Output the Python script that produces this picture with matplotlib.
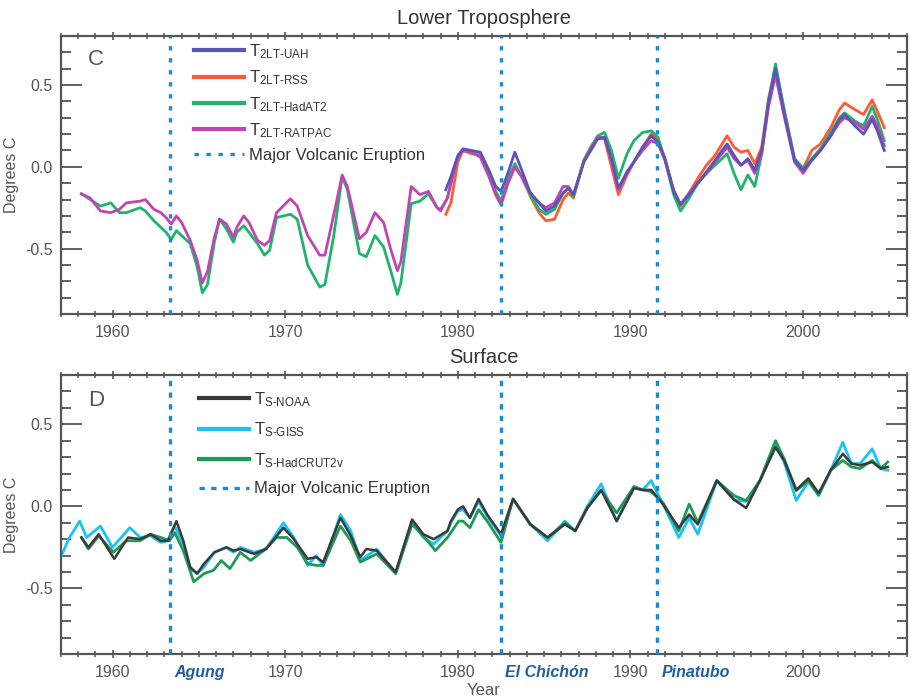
import matplotlib
matplotlib.use("Agg")
import matplotlib.pyplot as plt
from matplotlib.ticker import MultipleLocator
import matplotlib.transforms as mtransforms

plt.rcParams['font.family'] = ['Liberation Sans', 'DejaVu Sans']
plt.rcParams['mathtext.fontset'] = 'custom'
plt.rcParams['mathtext.rm'] = 'Liberation Sans'
plt.rcParams['mathtext.it'] = 'Liberation Sans:italic'
plt.rcParams['mathtext.bf'] = 'Liberation Sans:bold'

# ---------------- Lower troposphere (panel C) ----------------
uah_years = [1979.3, 1979.6, 1980.0, 1980.3, 1980.8, 1981.3, 1981.8, 1982.2, 1982.5, 1982.9,
             1983.3, 1983.7, 1984.2, 1984.7, 1985.1, 1985.6, 1986.1, 1986.4, 1986.7, 1987.3,
             1987.7, 1988.1, 1988.5, 1988.9, 1989.3, 1989.8, 1990.2, 1990.7, 1991.2, 1991.6,
             1992.0, 1992.5, 1992.9, 1993.4, 1993.9, 1994.4, 1994.9, 1995.3, 1995.6, 1996.0,
             1996.4, 1996.8, 1997.2, 1997.6, 1998.0, 1998.4, 1998.9, 1999.5, 2000.0, 2000.5,
             2001.0, 2001.6, 2002.1, 2002.4, 2003.0, 2003.5, 2004.0, 2004.3, 2004.7]
uah = [-0.14, -0.06, 0.07, 0.11, 0.10, 0.09, -0.02, -0.12, -0.15, -0.04,
       0.09, -0.02, -0.16, -0.22, -0.27, -0.24, -0.16, -0.13, -0.17, 0.03,
       0.10, 0.17, 0.18, 0.05, -0.13, -0.03, 0.03, 0.12, 0.19, 0.15,
       0.05, -0.15, -0.23, -0.17, -0.10, -0.03, 0.04, 0.10, 0.14, 0.07,
       0.01, 0.05, -0.02, 0.10, 0.40, 0.60, 0.33, 0.04, -0.02, 0.04,
       0.10, 0.19, 0.29, 0.32, 0.25, 0.20, 0.29, 0.22, 0.10]
rss = [-0.29, -0.22, 0.03, 0.10, 0.08, 0.07, -0.05, -0.17, -0.23, -0.10,
       0.00, -0.06, -0.18, -0.28, -0.33, -0.32, -0.20, -0.16, -0.19, 0.04,
       0.12, 0.18, 0.17, 0.00, -0.17, -0.05, 0.03, 0.12, 0.20, 0.17,
       0.05, -0.15, -0.24, -0.16, -0.07, 0.01, 0.07, 0.14, 0.19, 0.12,
       0.09, 0.10, 0.02, 0.12, 0.42, 0.61, 0.35, 0.05, -0.01, 0.10,
       0.14, 0.24, 0.35, 0.39, 0.35, 0.32, 0.41, 0.34, 0.24]

radio_years = [1958.2, 1958.7, 1959.3, 1959.9, 1960.4, 1960.8, 1961.6, 1961.9, 1962.4, 1962.8,
               1963.1, 1963.4, 1963.7, 1964.0, 1964.5, 1964.9, 1965.2, 1965.5, 1965.9, 1966.2,
               1966.6, 1967.0, 1967.2, 1967.6, 1967.9, 1968.4, 1968.8, 1969.1, 1969.5, 1970.3,
               1970.7, 1971.3, 1972.0, 1972.3, 1972.8, 1973.3, 1973.6, 1974.3, 1974.7, 1975.2,
               1975.7, 1976.1, 1976.5, 1976.7, 1977.3, 1977.8, 1978.3, 1978.8, 1979.0, 1979.4,
               1979.7, 1980.0, 1980.3, 1980.8, 1981.3, 1981.8, 1982.2, 1982.5, 1982.9, 1983.3,
               1983.7, 1984.2, 1984.7, 1985.1, 1985.6, 1986.1, 1986.4, 1986.7, 1987.3, 1987.7,
               1988.1, 1988.5, 1988.9, 1989.3, 1989.8, 1990.2, 1990.7, 1991.2, 1991.6, 1992.0,
               1992.5, 1992.9, 1993.4, 1993.9, 1994.4, 1994.9, 1995.3, 1995.6, 1996.0, 1996.4,
               1996.8, 1997.2, 1997.6, 1998.0, 1998.4, 1998.9, 1999.5, 2000.0, 2000.5, 2001.0,
               2001.6, 2002.1, 2002.4, 2003.0, 2003.5, 2004.0, 2004.3, 2004.7]
hadat2 = [-0.165, -0.20, -0.24, -0.22, -0.28, -0.28, -0.25, -0.27, -0.33, -0.37,
          -0.40, -0.445, -0.39, -0.42, -0.47, -0.61, -0.77, -0.72, -0.46, -0.32,
          -0.38, -0.46, -0.40, -0.36, -0.40, -0.47, -0.54, -0.51, -0.31, -0.29,
          -0.32, -0.60, -0.735, -0.72, -0.43, -0.06, -0.14, -0.53, -0.55, -0.42,
          -0.49, -0.63, -0.78, -0.71, -0.225, -0.21, -0.165, -0.25, -0.26, -0.19,
          -0.05, 0.06, 0.10, 0.09, 0.07, -0.04, -0.15, -0.21, -0.08, 0.02,
          -0.06, -0.17, -0.26, -0.29, -0.26, -0.16, -0.13, -0.18, 0.04, 0.12,
          0.19, 0.21, 0.10, -0.07, 0.08, 0.16, 0.21, 0.22, 0.18, 0.04,
          -0.17, -0.27, -0.19, -0.10, -0.04, 0.01, 0.05, 0.08, -0.04, -0.14,
          -0.05, -0.12, 0.08, 0.40, 0.63, 0.35, 0.05, -0.01, 0.05, 0.11,
          0.21, 0.30, 0.33, 0.28, 0.25, 0.37, 0.29, 0.16]
ratpac = [-0.165, -0.19, -0.27, -0.28, -0.26, -0.22, -0.21, -0.20, -0.26, -0.28,
          -0.31, -0.35, -0.30, -0.34, -0.45, -0.57, -0.71, -0.64, -0.43, -0.32,
          -0.35, -0.43, -0.37, -0.30, -0.34, -0.45, -0.48, -0.45, -0.28, -0.195,
          -0.24, -0.42, -0.54, -0.54, -0.30, -0.05, -0.12, -0.44, -0.40, -0.28,
          -0.34, -0.50, -0.635, -0.58, -0.12, -0.17, -0.15, -0.25, -0.27, -0.19,
          -0.06, 0.06, 0.10, 0.09, 0.06, -0.06, -0.17, -0.23, -0.10, 0.00,
          -0.06, -0.16, -0.22, -0.25, -0.22, -0.12, -0.12, -0.17, 0.03, 0.11,
          0.18, 0.18, 0.04, -0.14, -0.04, 0.03, 0.10, 0.16, 0.14, 0.04,
          -0.14, -0.23, -0.16, -0.10, -0.04, 0.03, 0.08, 0.12, 0.05, 0.01,
          0.04, -0.04, 0.08, 0.37, 0.56, 0.31, 0.03, -0.04, 0.04, 0.10,
          0.19, 0.27, 0.30, 0.27, 0.23, 0.31, 0.25, 0.13]

# ---------------- Surface (panel D) ----------------
noaa_years = [1958.2, 1958.6, 1959.2, 1960.1, 1960.9, 1961.6, 1962.2, 1962.8, 1963.2, 1963.7,
              1964.1, 1964.5, 1964.9, 1965.3, 1965.9, 1966.6, 1967.0, 1967.4, 1968.2, 1968.9,
              1969.9, 1970.5, 1971.3, 1971.8, 1972.2, 1973.2, 1973.8, 1974.35, 1974.7, 1975.3,
              1976.4, 1977.35, 1978.0, 1978.6, 1979.4, 1979.6, 1980.0, 1980.3, 1980.7, 1981.2,
              1981.7, 1982.5, 1983.2, 1984.2, 1985.2, 1986.2, 1986.8, 1987.5, 1988.3, 1989.2,
              1990.2, 1990.7, 1991.2, 1991.9, 1992.8, 1993.4, 1993.9, 1995.0, 1996.0, 1996.7,
              1997.5, 1998.4, 1998.9, 1999.6, 2000.3, 2000.9, 2001.6, 2002.3, 2002.8, 2003.3,
              2004.0, 2004.5, 2004.9]
noaa = [-0.19, -0.25, -0.17, -0.32, -0.19, -0.20, -0.17, -0.21, -0.21, -0.09,
        -0.21, -0.37, -0.41, -0.35, -0.28, -0.25, -0.27, -0.26, -0.29, -0.26,
        -0.13, -0.20, -0.32, -0.31, -0.34, -0.07, -0.18, -0.31, -0.26, -0.27,
        -0.40, -0.08, -0.17, -0.20, -0.15, -0.09, -0.02, 0.00, -0.07, 0.045,
        -0.05, -0.17, 0.045, -0.11, -0.19, -0.11, -0.15, -0.01, 0.10, -0.09,
        0.11, 0.10, 0.10, 0.01, -0.13, -0.05, -0.11, 0.157, 0.04, -0.01,
        0.157, 0.36, 0.28, 0.10, 0.17, 0.08, 0.22, 0.32, 0.26, 0.25,
        0.27, 0.23, 0.24]

giss_years = [1957.0, 1957.5, 1958.1, 1958.5, 1959.3, 1960.0, 1961.0, 1961.6, 1962.2, 1962.8,
              1963.2, 1963.6, 1964.1, 1964.5, 1964.9, 1965.3, 1965.9, 1966.6, 1967.0, 1967.4,
              1968.2, 1968.9, 1969.9, 1970.5, 1971.3, 1971.8, 1972.2, 1973.2, 1973.8, 1974.35,
              1975.3, 1976.4, 1977.35, 1978.0, 1978.6, 1979.4, 1979.6, 1980.0, 1980.3, 1980.7,
              1981.2, 1981.7, 1982.5, 1983.2, 1984.2, 1985.2, 1986.2, 1986.8, 1987.5, 1988.3,
              1989.2, 1990.2, 1990.7, 1991.2, 1991.9, 1992.8, 1993.4, 1993.9, 1995.0, 1996.0,
              1996.7, 1997.5, 1998.4, 1998.9, 1999.6, 2000.3, 2000.9, 2001.6, 2002.3, 2002.8,
              2003.3, 2004.0, 2004.5, 2004.9]
giss = [-0.31, -0.19, -0.09, -0.19, -0.12, -0.25, -0.13, -0.19, -0.18, -0.22,
        -0.21, -0.12, -0.23, -0.38, -0.41, -0.37, -0.28, -0.25, -0.28, -0.25,
        -0.28, -0.26, -0.10, -0.19, -0.36, -0.30, -0.36, -0.05, -0.15, -0.33,
        -0.26, -0.41, -0.09, -0.19, -0.23, -0.15, -0.10, -0.03, -0.02, -0.07,
        0.03, -0.06, -0.18, 0.045, -0.11, -0.21, -0.09, -0.15, 0.00, 0.137,
        -0.09, 0.12, 0.10, 0.157, 0.01, -0.19, -0.07, -0.17, 0.157, 0.04,
        0.03, 0.157, 0.37, 0.27, 0.035, 0.15, 0.065, 0.22, 0.39, 0.26,
        0.26, 0.35, 0.23, 0.22]

hadcrut_years = [1958.2, 1958.6, 1959.2, 1960.05, 1960.8, 1961.6, 1962.2, 1962.8, 1963.3, 1963.6,
                 1964.1, 1964.7, 1965.3, 1965.85, 1966.3, 1966.8, 1967.4, 1968.0, 1968.75, 1969.5,
                 1970.1, 1970.7, 1971.3, 1971.8, 1972.2, 1973.2, 1973.8, 1974.35, 1975.3, 1976.4,
                 1977.35, 1978.0, 1978.7, 1979.4, 1980.05, 1980.3, 1980.7, 1981.2, 1981.7, 1982.5,
                 1983.2, 1984.2, 1985.2, 1986.2, 1986.8, 1987.5, 1988.3, 1989.2, 1990.2, 1990.7,
                 1991.2, 1991.9, 1992.8, 1993.4, 1993.9, 1995.0, 1996.0, 1996.7, 1997.5, 1998.4,
                 1998.9, 1999.6, 2000.3, 2000.9, 2001.6, 2002.3, 2002.8, 2003.3, 2004.0, 2004.5,
                 2004.9]
hadcrut = [-0.19, -0.26, -0.18, -0.28, -0.21, -0.21, -0.17, -0.19, -0.21, -0.16,
           -0.27, -0.46, -0.41, -0.39, -0.33, -0.38, -0.28, -0.33, -0.27, -0.19,
           -0.19, -0.25, -0.35, -0.36, -0.36, -0.12, -0.21, -0.34, -0.29, -0.41,
           -0.11, -0.18, -0.27, -0.19, -0.09, -0.09, -0.13, -0.02, -0.09, -0.22,
           0.045, -0.11, -0.19, -0.10, -0.15, -0.01, 0.096, -0.04, 0.12, 0.10,
           0.09, 0.02, -0.15, 0.014, -0.10, 0.157, 0.065, 0.035, 0.157, 0.40,
           0.29, 0.096, 0.157, 0.07, 0.22, 0.28, 0.24, 0.23, 0.28, 0.23,
           0.27]

eruption_years = [1963.35, 1982.5, 1991.55]
eruption_names = ['Agung', 'El Chichón', 'Pinatubo']

xticks = [1960, 1970, 1980, 1990, 2000]
yticks = [-0.5, 0.0, 0.5]
ytick_labels = ['-0.5', '0.0', '0.5']

HY = '\u2010'  # hyphen used in the subscripts


def sub_label(base, sub):
    return base + r'$_{\mathregular{' + sub.replace('-', HY) + '}}$'


# ---------------- styling ----------------
axis_gray = '#555555'
volc_color = '#1a8ad4'
name_color = '#1f5f9f'

fig = plt.figure(figsize=(9.12, 6.98), dpi=100)
ax1 = fig.add_axes([0.0666, 0.5501, 0.9276, 0.3983])
ax2 = fig.add_axes([0.0666, 0.0630, 0.9276, 0.3997])


def style_axis(ax):
    ax.set_xlim(1957, 2006)
    ax.set_ylim(-0.9, 0.8)
    ax.set_xticks(xticks)
    ax.set_xticklabels([str(t) for t in xticks])
    ax.set_yticks(yticks)
    ax.set_yticklabels(ytick_labels)
    ax.xaxis.set_minor_locator(MultipleLocator(1))
    ax.yaxis.set_minor_locator(MultipleLocator(0.1))
    ax.tick_params(axis='y', which='major', direction='in', length=15, width=1.3,
                   right=True, left=True, labelsize=11.5, labelcolor=axis_gray,
                   color=axis_gray, pad=6)
    ax.tick_params(axis='y', which='minor', direction='in', length=7, width=1.3,
                   right=True, left=True, color=axis_gray)
    ax.tick_params(axis='x', which='major', direction='inout', length=6, width=1.2,
                   top=True, bottom=True, labelsize=11.5, labelcolor=axis_gray,
                   color=axis_gray, pad=5)
    ax.tick_params(axis='x', which='minor', direction='inout', length=4, width=1.1,
                   top=True, bottom=True, color=axis_gray)
    for s in ax.spines.values():
        s.set_color(axis_gray)
        s.set_linewidth(1.6)
    ax.set_ylabel('Degrees C', fontsize=11.5, color=axis_gray, labelpad=4)


# Panel C
ax1.plot(uah_years, uah, color='#5a55b5', lw=2.0, label=sub_label('T', '2LT-UAH'), zorder=3)
ax1.plot(uah_years, rss, color='#ff5a33', lw=2.0, label=sub_label('T', '2LT-RSS'), zorder=2)
ax1.plot(radio_years, hadat2, color='#1fb46a', lw=2.0, label=sub_label('T', '2LT-HadAT2'), zorder=2)
ax1.plot(radio_years, ratpac, color='#c443b4', lw=2.0, label=sub_label('T', '2LT-RATPAC'), zorder=2)
for i, ey in enumerate(eruption_years):
    ax1.axvline(ey, color=volc_color, lw=2.4, linestyle=(0, (1.3, 2.3)),
                label='Major Volcanic Eruption' if i == 0 else None, zorder=4)
style_axis(ax1)
ax1.set_title('Lower Troposphere', fontsize=14.5, color='#333333', pad=9)
ax1.text(0.032, 0.914, 'C', transform=ax1.transAxes, fontsize=16, color=axis_gray,
         ha='left', va='center')
leg1 = ax1.legend(loc='upper left', bbox_to_anchor=(0.157, 0.978), frameon=False,
                  handlelength=3.0, handletextpad=0.3, labelspacing=0.46,
                  borderpad=0, borderaxespad=0, fontsize=12)
for t in leg1.get_texts():
    t.set_color('#333333')
for h in leg1.get_lines()[:4]:
    h.set_linewidth(3.0)

# Panel D
ax2.plot(noaa_years, noaa, color='#3a3a3a', lw=1.8, label=sub_label('T', 'S-NOAA'), zorder=3)
ax2.plot(giss_years, giss, color='#19c3f5', lw=2.0, label=sub_label('T', 'S-GISS'), zorder=2)
ax2.plot(hadcrut_years, hadcrut, color='#1f9a55', lw=2.0, label=sub_label('T', 'S-HadCRUT2v'), zorder=2)
for i, ey in enumerate(eruption_years):
    ax2.axvline(ey, color=volc_color, lw=2.4, linestyle=(0, (1.6, 1.9)),
                label='Major Volcanic Eruption' if i == 0 else None, zorder=4)
style_axis(ax2)
ax2.set_title('Surface', fontsize=14.5, color='#333333', pad=9)
ax2.set_xlabel('Year', fontsize=12, color=axis_gray, labelpad=2)
ax2.text(0.032, 0.91, 'D', transform=ax2.transAxes, fontsize=16, color=axis_gray,
         ha='left', va='center')
leg2 = ax2.legend(loc='upper left', bbox_to_anchor=(0.163, 0.947), frameon=False,
                  handlelength=3.0, handletextpad=0.3, labelspacing=0.71,
                  borderpad=0, borderaxespad=0, fontsize=12)
for t in leg2.get_texts():
    t.set_color('#333333')
for h in leg2.get_lines()[:3]:
    h.set_linewidth(3.0)

trans = mtransforms.blended_transform_factory(ax2.transData, ax2.transAxes)
for ey, name in zip(eruption_years, eruption_names):
    ax2.text(ey + 0.25, -0.065, name, transform=trans, fontsize=11.5, fontweight='bold',
             fontstyle='italic', color=name_color, ha='left', va='center')

fig.savefig('out.png', dpi=100)
